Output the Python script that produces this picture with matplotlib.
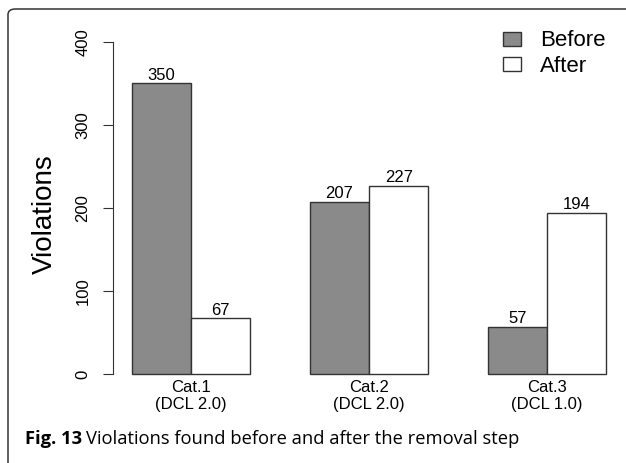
import matplotlib
matplotlib.use("Agg")
import matplotlib.pyplot as plt
from matplotlib.patches import FancyBboxPatch, Patch
import numpy as np

categories = ["Cat.1\n(DCL 2.0)", "Cat.2\n(DCL 2.0)", "Cat.3\n(DCL 1.0)"]
before = [350, 207, 57]
after = [67, 227, 194]
series_names = ["Before", "After"]
yticks = [0, 100, 200, 300, 400]

W, H = 626, 463
fig = plt.figure(figsize=(W / 100, H / 100), dpi=100)
plt.rcParams['font.family'] = ['Liberation Sans', 'DejaVu Sans']

# outer rounded frame (open at right/bottom)
frame = FancyBboxPatch((8 / W, -0.2), 1.2, (1 - 9 / H) + 0.2,
                       boxstyle="round,pad=0,rounding_size=0.012",
                       transform=fig.transFigure, fill=False,
                       edgecolor="#333333", linewidth=1.1)
fig.patches.append(frame)

ax = fig.add_axes([113 / W, 1 - 387.3 / H, 512 / W, (387.3 - 28.7) / H])
ax.set_facecolor("none")

group_pos = np.array([2.0, 5.0, 8.0])
bw = 1.0
b1 = ax.bar(group_pos - bw / 2, before, width=bw, color="#8a8a8a",
            edgecolor="#333333", linewidth=1.0, label=series_names[0])
b2 = ax.bar(group_pos + bw / 2, after, width=bw, color="white",
            edgecolor="#333333", linewidth=1.0, label=series_names[1])
ax.bar_label(b1, labels=[str(v) for v in before], padding=0.5, fontsize=12)
ax.bar_label(b2, labels=[str(v) for v in after], padding=0.5, fontsize=12)

ax.set_xlim(0.68, 9.32)
ax.set_ylim(-16, 416)
for s in ["top", "right", "bottom"]:
    ax.spines[s].set_visible(False)
ax.spines["left"].set_bounds(0, 400)
ax.spines["left"].set_color("#333333")
ax.set_yticks(yticks)
ax.set_yticklabels([str(t) for t in yticks], rotation=90, va="center", fontsize=12)
ax.tick_params(axis="y", length=7.2, pad=9, color="#333333")
ax.set_xticks([])

for x, lab in zip(group_pos, categories):
    ax.annotate(lab, xy=(x, 0), xytext=(0, -4), textcoords="offset points",
                ha="center", va="top", fontsize=12, linespacing=1.2)

fig.text(45 / W, 1 - 214 / H, "Violations", rotation=90, ha="center",
         va="center", fontsize=20)

handles = [Patch(facecolor="#8a8a8a", edgecolor="#333333", linewidth=1.0),
           Patch(facecolor="white", edgecolor="#333333", linewidth=1.0)]
leg = ax.legend(handles, series_names, loc="upper left",
                bbox_to_anchor=(499 / W, 1 - 26 / H), bbox_transform=fig.transFigure,
                frameon=False, fontsize=16, handlelength=0.78, handleheight=0.6,
                handletextpad=0.85, labelspacing=0.2, borderaxespad=0, borderpad=0.2)

cap_fs = 13.2
t1 = fig.text(25 / W, 1 - 439 / H, "Fig. 13", fontsize=cap_fs, fontweight="bold",
              family=["Open Sans", "DejaVu Sans"], va="center", ha="left")
fig.canvas.draw()
bb = t1.get_window_extent()
fig.text((bb.x1 + 4) / W, 1 - 439 / H,
         "Violations found before and after the removal step", fontsize=cap_fs,
         family=["Open Sans", "DejaVu Sans"], va="center", ha="left")

fig.savefig("out.png", dpi=100)
